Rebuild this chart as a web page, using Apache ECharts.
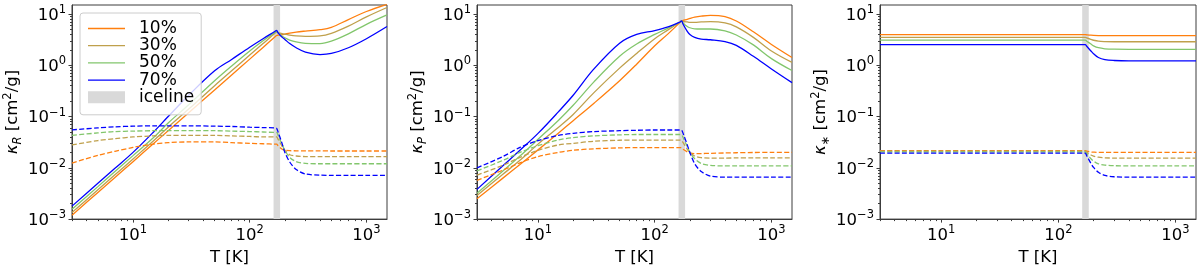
<!DOCTYPE html>
<html><head><meta charset="utf-8">
<script src="https://cdn.jsdelivr.net/npm/echarts@6/dist/echarts.min.js"></script>
<style>html,body{margin:0;padding:0;background:#fff}#c{width:1200px;height:271px}</style>
</head><body><div id="c"></div>
<script>
// ---- data ----
const T = [3,5,7,10,15,20,30,50,70,100,130,165,170,175,190,200,220,250,300,400,500,700,1000,1500];
const labels = ['10%','30%','50%','70%'];
const colors = ['#ff7f0e','#bfa04c','#82c66c','#0000ff'];
const iceline = [160, 182];
const majorX = [10, 100, 1000];
const minorX = [3,4,5,6,7,8,9,20,30,40,50,60,70,80,90,200,300,400,500,600,700,800,900];
const majorY = [0.001, 0.01, 0.1, 1, 10];
const minorY = [0.002,0.003,0.004,0.005,0.006,0.007,0.008,0.009,0.02,0.03,0.04,0.05,0.06,0.07,0.08,0.09,0.2,0.3,0.4,0.5,0.6,0.7,0.8,0.9,2,3,4,5,6,7,8,9];

// Rosseland (panel 1)
const R_sol_10 = [0.00119,0.00331,0.00648,0.0132,0.0298,0.0529,0.119,0.331,0.648,1.32,2.23,3.6,3.82,3.86,3.95,4.05,4.25,4.45,4.65,4.95,5.5,7.8,11.2,15.5];
const R_sol_30 = [0.00134,0.00372,0.0073,0.0149,0.0337,0.062,0.14,0.40,0.78,1.58,2.65,4.25,4.45,4.35,4.15,4.05,3.88,3.75,3.68,3.75,4.2,5.8,8.8,13.4];
const R_sol_50 = [0.00155,0.0043,0.0085,0.0173,0.039,0.075,0.17,0.5,0.97,1.9,3.0,4.4,4.62,4.3,3.7,3.45,3.1,2.85,2.68,2.65,2.95,4.1,6.3,9.6];
const R_sol_70 = [0.00179,0.005,0.0098,0.02,0.05,0.1,0.26,0.78,1.3,2.25,3.3,4.6,4.82,4.3,3.5,3.2,2.65,2.2,1.8,1.62,1.7,2.2,3.3,5.7];
const R_dash_10 = [0.0124,0.0175,0.021,0.025,0.029,0.031,0.032,0.032,0.031,0.030,0.0295,0.029,0.029,0.027,0.023,0.022,0.0216,0.0215,0.0214,0.0214,0.0213,0.0213,0.0213,0.0213];
const R_dash_30 = [0.028,0.034,0.037,0.040,0.042,0.043,0.043,0.043,0.042,0.041,0.040,0.040,0.040,0.036,0.026,0.022,0.018,0.017,0.0166,0.0166,0.0166,0.0166,0.0166,0.0166];
const R_dash_50 = [0.043,0.048,0.051,0.052,0.053,0.053,0.053,0.053,0.052,0.051,0.050,0.049,0.049,0.043,0.028,0.022,0.016,0.0132,0.0122,0.012,0.012,0.012,0.012,0.012];
const R_dash_70 = [0.055,0.060,0.063,0.065,0.066,0.066,0.066,0.065,0.064,0.062,0.061,0.060,0.059,0.050,0.029,0.020,0.013,0.0093,0.0076,0.0072,0.0071,0.0071,0.0071,0.0071];

// Planck (panel 2)
const P_sol_10 = [0.0025,0.0063,0.0116,0.0224,0.048,0.083,0.18,0.5,1.05,2.4,4.1,6.9,7.35,7.5,7.9,8.2,8.7,9.1,9.4,8.9,7.3,4.5,2.55,1.42];
const P_sol_30 = [0.0029,0.0075,0.014,0.029,0.062,0.11,0.29,0.88,1.7,3.3,4.9,7.0,7.35,7.2,7.0,6.9,6.9,7.0,7.1,6.7,5.6,3.5,1.9,1.14];
const P_sol_50 = [0.0032,0.0087,0.017,0.036,0.085,0.166,0.47,1.5,2.6,4.0,5.3,7.0,7.35,6.6,5.7,5.4,5.15,5.1,5.1,4.7,3.9,2.5,1.35,0.79];
const P_sol_70 = [0.0038,0.011,0.022,0.047,0.125,0.26,0.84,2.7,4.0,4.75,5.6,7.0,7.35,6.3,4.6,4.0,3.5,3.25,3.15,2.9,2.45,1.5,0.85,0.46];
const P_dash_10 = [0.0057,0.009,0.0125,0.0166,0.020,0.022,0.0235,0.0245,0.0248,0.0248,0.0248,0.0248,0.0245,0.023,0.0205,0.0195,0.019,0.019,0.0192,0.0195,0.0197,0.0199,0.020,0.020];
const P_dash_30 = [0.0072,0.0112,0.016,0.022,0.028,0.030,0.033,0.0345,0.0347,0.0347,0.0347,0.0347,0.034,0.031,0.023,0.020,0.017,0.0158,0.0155,0.0155,0.0156,0.0157,0.0157,0.0157];
const P_dash_50 = [0.0087,0.014,0.020,0.027,0.035,0.039,0.042,0.044,0.0447,0.0447,0.0447,0.0447,0.044,0.039,0.026,0.020,0.015,0.0122,0.0112,0.0109,0.0109,0.0109,0.0109,0.0109];
const P_dash_70 = [0.010,0.0166,0.025,0.034,0.043,0.047,0.051,0.053,0.054,0.0547,0.0547,0.0547,0.054,0.047,0.028,0.020,0.012,0.0085,0.0069,0.0066,0.0066,0.0066,0.0066,0.0066];

// stellar (panel 3)
const S_sol_10 = [3.96,3.96,3.96,3.96,3.96,3.96,3.96,3.96,3.96,3.96,3.96,3.96,3.96,3.93,3.86,3.83,3.80,3.79,3.79,3.79,3.79,3.79,3.79,3.79];
const S_sol_30 = [3.52,3.52,3.52,3.52,3.52,3.52,3.52,3.52,3.52,3.52,3.52,3.52,3.52,3.42,3.2,3.08,2.95,2.9,2.88,2.88,2.88,2.88,2.88,2.88];
const S_sol_50 = [3.09,3.09,3.09,3.09,3.09,3.09,3.09,3.09,3.09,3.09,3.09,3.09,3.09,2.95,2.6,2.4,2.2,2.1,2.06,2.05,2.05,2.05,2.05,2.05];
const S_sol_70 = [2.52,2.52,2.52,2.52,2.52,2.52,2.52,2.52,2.52,2.52,2.52,2.52,2.52,2.35,1.9,1.68,1.42,1.29,1.24,1.22,1.22,1.22,1.22,1.22];
const S_dash_10 = [0.0217,0.0217,0.0217,0.0217,0.0217,0.0217,0.0217,0.0217,0.0217,0.0217,0.0217,0.0217,0.0217,0.0212,0.0204,0.0202,0.020,0.020,0.020,0.020,0.020,0.020,0.020,0.020];
const S_dash_30 = [0.0211,0.0211,0.0211,0.0211,0.0211,0.0211,0.0211,0.0211,0.0211,0.0211,0.0211,0.0211,0.0211,0.020,0.0178,0.017,0.0161,0.0157,0.0155,0.0155,0.0155,0.0155,0.0155,0.0155];
const S_dash_50 = [0.0204,0.0204,0.0204,0.0204,0.0204,0.0204,0.0204,0.0204,0.0204,0.0204,0.0204,0.0204,0.0204,0.0188,0.015,0.0135,0.012,0.0113,0.011,0.0109,0.0109,0.0109,0.0109,0.0109];
const S_dash_70 = [0.0194,0.0194,0.0194,0.0194,0.0194,0.0194,0.0194,0.0194,0.0194,0.0194,0.0194,0.0194,0.0194,0.0172,0.0122,0.0102,0.0082,0.0071,0.0067,0.0066,0.0066,0.0066,0.0066,0.0066];

const panels = [
  {sub:'R', solid:[R_sol_10,R_sol_30,R_sol_50,R_sol_70], dash:[R_dash_10,R_dash_30,R_dash_50,R_dash_70]},
  {sub:'P', solid:[P_sol_10,P_sol_30,P_sol_50,P_sol_70], dash:[P_dash_10,P_dash_30,P_dash_50,P_dash_70]},
  {sub:'\u2217', solid:[S_sol_10,S_sol_30,S_sol_50,S_sol_70], dash:[S_dash_10,S_dash_30,S_dash_50,S_dash_70]}
];

// ---- chart ----
const FF = 'DejaVu Sans';
const FS = 16.5;
const AX = '#3c3c3c';
const gridPos = [{left:72, width:315},{left:477, width:315},{left:880, width:316}];
const tickRich = {
  n:{fontFamily:FF, fontSize:FS, color:'#000', lineHeight:20, verticalAlign:'bottom'},
  s:{fontFamily:FF, fontSize:11.5, color:'#000', lineHeight:13, verticalAlign:'top'}
};
function fmt(v){ const e = Math.round(Math.log10(v)); return '{n|10}{s|' + (e<0 ? '\u2212'+(-e) : e) + '}'; }
const nameRich = {
  k:{fontFamily:FF, fontSize:FS, fontStyle:'italic', color:'#000', lineHeight:22, verticalAlign:'middle'},
  b:{fontFamily:FF, fontSize:11.5, fontStyle:'italic', color:'#000', lineHeight:12, verticalAlign:'bottom'},
  n:{fontFamily:FF, fontSize:FS, color:'#000', lineHeight:22, verticalAlign:'middle'},
  p:{fontFamily:FF, fontSize:11.5, color:'#000', lineHeight:12, verticalAlign:'top'}
};
// legend icon for a line: thin bar inside a full-size invisible frame
const lineIcon = 'path://M0,0 M37,12 M0,5.35 L37,5.35 L37,6.65 L0,6.65 Z';

const grid = [], xAxis = [], yAxis = [], series = [];
panels.forEach((pn, i) => {
  grid.push({left:gridPos[i].left, width:gridPos[i].width, top:5, height:218, show:true, borderColor:AX, borderWidth:1, containLabel:false});
  xAxis.push({type:'log', gridIndex:i, position:'bottom', min:3, max:1500, logBase:10,
    axisLine:{show:true, lineStyle:{color:AX, width:1}},
    axisTick:{show:true, length:3.5, customValues:majorX, lineStyle:{color:AX}},
    axisLabel:{customValues:majorX, formatter:fmt, rich:tickRich, margin:5},
    splitLine:{show:false}, minorTick:{show:false},
    name:'T [K]', nameLocation:'middle', nameGap:19,
    nameTextStyle:{fontFamily:FF, fontSize:FS, color:'#000'}});
  xAxis.push({type:'log', gridIndex:i, position:'bottom', min:3, max:1500, logBase:10,
    axisLine:{show:false}, axisTick:{show:true, length:2, customValues:minorX, lineStyle:{color:AX}},
    axisLabel:{show:false}, splitLine:{show:false}});
  yAxis.push({type:'log', gridIndex:i, position:'left', min:0.001, max:15, logBase:10,
    axisLine:{show:true, lineStyle:{color:AX, width:1}},
    axisTick:{show:true, length:3.5, customValues:majorY, lineStyle:{color:AX}},
    axisLabel:{customValues:majorY, formatter:fmt, rich:tickRich, margin:6},
    splitLine:{show:false},
    name:'{k|\u03ba}{b|'+pn.sub+'}{n| [cm}{p|2}{n|/g]}', nameLocation:'middle', nameGap:46,
    nameTextStyle:{fontFamily:FF, fontSize:FS, color:'#000', rich:nameRich}});
  yAxis.push({type:'log', gridIndex:i, position:'left', min:0.001, max:15, logBase:10,
    axisLine:{show:false}, axisTick:{show:true, length:2, customValues:minorY, lineStyle:{color:AX}},
    axisLabel:{show:false}, splitLine:{show:false}});
  series.push({name:'iceline', type:'line', xAxisIndex:2*i, yAxisIndex:2*i, data:[], z:1,
    itemStyle:{color:'#d9d9d9'}, lineStyle:{color:'#d9d9d9'}, symbol:'none', silent:true,
    markArea:{silent:true, z:1, itemStyle:{color:'#d9d9d9', opacity:1},
      data:[[{xAxis:iceline[0]},{xAxis:iceline[1]}]]}});
  for (let k=0;k<4;k++){
    series.push({name:labels[k], type:'line', xAxisIndex:2*i, yAxisIndex:2*i, z:3,
      data:T.map((t,j)=>[t, pn.solid[k][j]]), symbol:'none', smooth:0.35,
      lineStyle:{color:colors[k], width:1.3}, itemStyle:{color:colors[k]}, silent:true});
  }
  for (let k=0;k<4;k++){
    series.push({name:'dash '+labels[k], type:'line', xAxisIndex:2*i, yAxisIndex:2*i, z:3,
      data:T.map((t,j)=>[t, pn.dash[k][j]]), symbol:'none', smooth:0.3,
      lineStyle:{color:colors[k], width:1.3, type:[5,2.3]}, itemStyle:{color:colors[k]}, silent:true});
  }
});

const chart = echarts.init(document.getElementById('c'), null, {renderer:'canvas'});
chart.setOption({
  animation:false,
  backgroundColor:'#fff',
  grid, xAxis, yAxis, series,
  legend:{left:80, top:13, orient:'vertical', selectedMode:false,
    data:[...labels.map(l=>({name:l, icon:lineIcon})), {name:'iceline', icon:'rect'}],
    itemWidth:37, itemHeight:12, itemGap:0.2, padding:[7,7,9,8],
    backgroundColor:'rgba(255,255,255,0.8)', borderColor:'#cccccc', borderWidth:1, borderRadius:3,
    textStyle:{fontFamily:FF, fontSize:17, color:'#000', lineHeight:17, padding:[0,0,0,9]}}
});
</script></body></html>
